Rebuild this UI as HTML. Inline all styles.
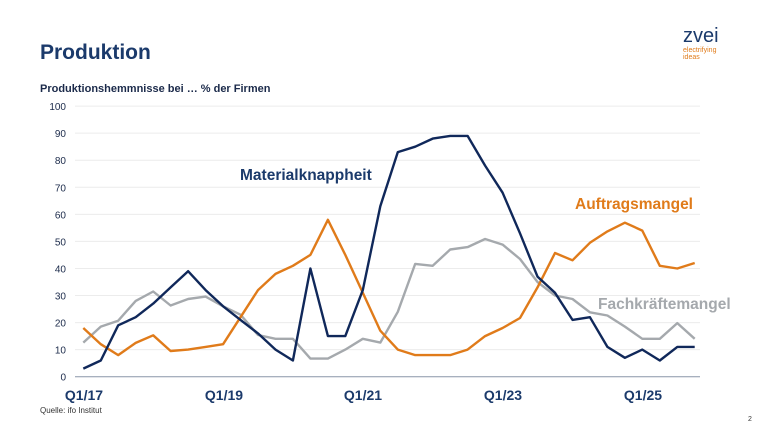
<!DOCTYPE html>
<html><head><meta charset="utf-8"><style>
body{margin:0;width:768px;height:432px;background:#fff;overflow:hidden;font-family:"Liberation Sans",sans-serif;}
</style></head><body>
<svg width="768" height="432" xmlns="http://www.w3.org/2000/svg" font-family="Liberation Sans, sans-serif">
<text x="40" y="59" font-size="21" font-weight="bold" fill="#1b3a6b">Produktion</text>
<text x="40" y="92" font-size="11" font-weight="bold" fill="#1b2a4a">Produktionshemmnisse bei … % der Firmen</text>
<text x="683" y="42" font-size="20" fill="#1b3a6b">zvei</text>
<text x="683" y="52" font-size="7" fill="#e07b1a">electrifying</text>
<text x="683" y="59" font-size="7" fill="#e07b1a">ideas</text>
<g id="grid"></g>
<g id="lines"></g>
<text x="240" y="180" font-size="15.5" font-weight="bold" fill="#1b3a6b">Materialknappheit</text>
<text x="575" y="209" font-size="15.5" font-weight="bold" fill="#e07b1a">Auftragsmangel</text>
<text x="598" y="309" font-size="15.5" font-weight="bold" fill="#a5a9ad">Fachkräftemangel</text>
<g font-size="14" font-weight="bold" fill="#1b3a6b" text-anchor="middle">
<text x="84" y="400">Q1/17</text><text x="224" y="400">Q1/19</text><text x="363" y="400">Q1/21</text><text x="503" y="400">Q1/23</text><text x="643" y="400">Q1/25</text>
</g>
<text x="40" y="413" font-size="8" fill="#333">Quelle: ifo Institut</text>
<text x="748" y="421" font-size="7" fill="#333">2</text>
</svg>
<script>
function Y(v){return 376.7-v*2.706;}
var g=document.getElementById("grid"),h="";
for(var i=0;i<=10;i++){var y=Y(i*10);
h+='<line x1="75" x2="700" y1="'+y+'" y2="'+y+'" stroke="'+(i?'#ececec':'#8a96a8')+'" stroke-width="1"/>';
h+='<text x="66" y="'+(y+4)+'" font-size="10" text-anchor="end" fill="#1b2a4a">'+(i*10)+'</text>';}
g.innerHTML=h;
var B=[3,6,19,22,27,33,39,32,26,21,16,10,6,40,15,15,32,63,83,85,88,89,89,78,68,53,37,31,21,22,11,7,10,6,11,11];
var O=[18,12,8,12.5,15.3,9.5,10,11,12,22,32,38,41,45,58,45,31,17,10,8,8,8,10,15,18,21.7,33,45.7,43,49.5,53.7,56.9,54,41,40,42];
var G=[12.6,18.5,20.7,28,31.5,26.3,28.7,29.6,26,22.9,15.4,14,14,6.7,6.7,10,14,12.6,24,41.7,41,47,47.9,50.9,48.8,43.5,35,30,28.7,23.8,22.6,18.5,14,14,19.8,14];
function pl(d,c){return '<polyline fill="none" stroke="'+c+'" stroke-width="2.4" stroke-linejoin="round" points="'+d.map(function(v,i){return (83.3+i*17.47).toFixed(1)+','+Y(v).toFixed(1)}).join(' ')+'"/>';}
document.getElementById("lines").innerHTML=pl(G,"#a5a9ad")+pl(O,"#e07b1a")+pl(B,"#10285a");
</script>
</body></html>
